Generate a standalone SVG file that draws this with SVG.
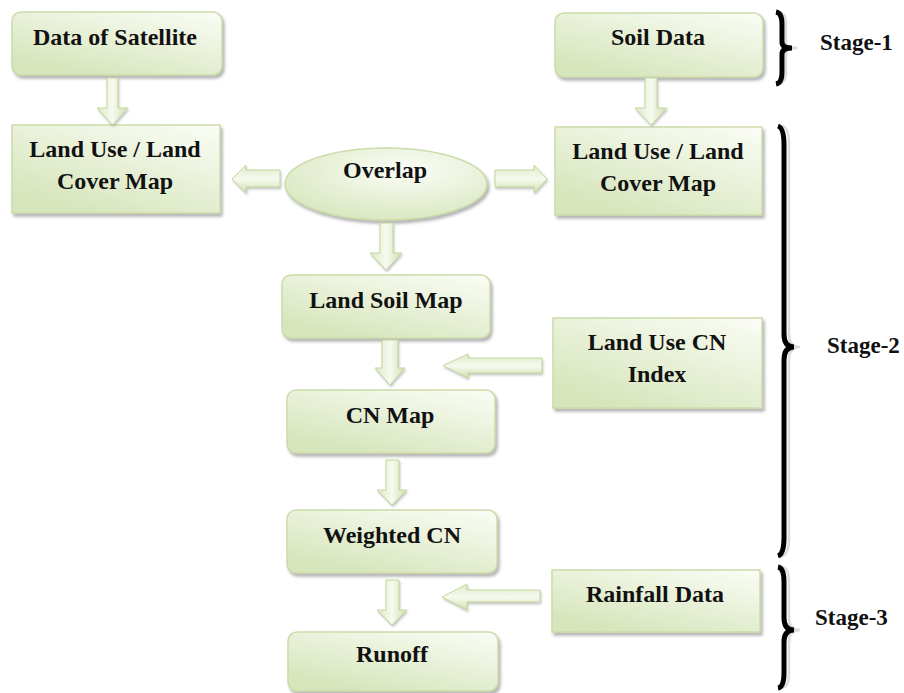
<svg xmlns="http://www.w3.org/2000/svg" width="904" height="693" viewBox="0 0 904 693">
<defs>
<linearGradient id="gBox" x1="1" y1="0" x2="0.3" y2="1">
<stop offset="0" stop-color="#fbfdf6"/>
<stop offset="1" stop-color="#d6e5bb"/>
</linearGradient>
<linearGradient id="gArrV" x1="0" y1="0" x2="1" y2="0">
<stop offset="0" stop-color="#dde9c8"/>
<stop offset="0.5" stop-color="#f7faf0"/>
<stop offset="1" stop-color="#cfdfb0"/>
</linearGradient>
<linearGradient id="gArrH" x1="0" y1="0" x2="0" y2="1">
<stop offset="0" stop-color="#dde9c8"/>
<stop offset="0.5" stop-color="#f7faf0"/>
<stop offset="1" stop-color="#cfdfb0"/>
</linearGradient>
<radialGradient id="gEll" cx="0.6" cy="0.3" r="0.8">
<stop offset="0" stop-color="#fbfdf6"/>
<stop offset="1" stop-color="#d6e5bb"/>
</radialGradient>
<filter id="sh" x="-10%" y="-10%" width="125%" height="135%">
<feDropShadow dx="2" dy="3" stdDeviation="1.5" flood-color="#7a7a7a" flood-opacity="0.55"/>
</filter>
<filter id="shA" x="-20%" y="-20%" width="150%" height="150%">
<feDropShadow dx="1" dy="2" stdDeviation="1" flood-color="#8a8a8a" flood-opacity="0.45"/>
</filter>
</defs>
<style>
.box{fill:url(#gBox);stroke:#cbdcaa;stroke-width:1.5;filter:url(#sh)}
.t{font-family:"Liberation Serif","Times New Roman",serif;font-weight:bold;font-size:24px;fill:#111;text-anchor:middle}
.st{font-family:"Liberation Serif","Times New Roman",serif;font-weight:bold;font-size:23px;fill:#111}
.av{fill:url(#gArrV);stroke:#c3d69b;stroke-width:1;filter:url(#shA)}
.ah{fill:url(#gArrH);stroke:#c3d69b;stroke-width:1;filter:url(#shA)}
.br{fill:none;stroke:#000;stroke-width:5}
.br2{fill:none;stroke:#dcdcdc;stroke-width:2.5}
</style>
<rect width="904" height="693" fill="#fff"/>

<g id="n-satellite"><rect class="box" x="12" y="12" width="210" height="63" rx="9"/><text class="t" x="115" y="45">Data of Satellite</text></g>
<g id="n-lulc-left"><rect class="box" x="12" y="125" width="208" height="88"/><text class="t" x="115" y="157">Land Use / Land</text><text class="t" x="115" y="189">Cover Map</text></g>
<g id="n-soil"><rect class="box" x="555" y="13" width="208" height="64" rx="9"/><text class="t" x="658" y="45">Soil Data</text></g>
<g id="n-lulc-right"><rect class="box" x="555" y="127" width="207" height="88"/><text class="t" x="658" y="159">Land Use / Land</text><text class="t" x="658" y="191">Cover Map</text></g>
<g id="n-overlap"><ellipse cx="386" cy="184" rx="101" ry="36" fill="url(#gEll)" stroke="#cbdcaa" stroke-width="1.5" filter="url(#sh)"/><text class="t" x="385" y="178">Overlap</text></g>
<g id="n-landsoil"><rect class="box" x="282" y="275" width="208" height="63" rx="9"/><text class="t" x="386" y="308">Land Soil Map</text></g>
<g id="n-cnindex"><rect class="box" x="553" y="318" width="209" height="90"/><text class="t" x="657" y="350">Land Use CN</text><text class="t" x="657" y="382">Index</text></g>
<g id="n-cnmap"><rect class="box" x="287" y="390" width="208" height="63" rx="9"/><text class="t" x="390" y="423">CN Map</text></g>
<g id="n-weighted"><rect class="box" x="287" y="510" width="210" height="63" rx="9"/><text class="t" x="392" y="543">Weighted CN</text></g>
<g id="n-rainfall"><rect class="box" x="552" y="570" width="208" height="62"/><text class="t" x="655" y="602">Rainfall Data</text></g>
<g id="n-runoff"><rect class="box" x="288" y="632" width="210" height="59" rx="9"/><text class="t" x="392" y="662">Runoff</text></g>

<g id="connectors">
<path class="av" d="M107,78 H118 V108 H128 L112.5,125 L97,108 H107 Z"/>
<path class="av" d="M645,78 H657 V108 H667 L651,125 L635,108 H645 Z"/>
<path class="av" d="M380,223 H393 V253 H402 L386,270 L370,253 H380 Z"/>
<path class="av" d="M382,340 H398 V368 H405 L390,385 L375,368 H382 Z"/>
<path class="av" d="M386,460 H399 V490 H407 L392,505 L377,490 H386 Z"/>
<path class="av" d="M386,580 H399 V610 H407 L392,625 L377,610 H386 Z"/>
<path class="ah" d="M280,170 V187 H246 V193 L232,179 L246,165 V170 Z"/>
<path class="ah" d="M495,170 H534 V165 L547,179 L534,193 V187 H495 Z"/>
<path class="ah" d="M542,358 V373 H468 V378 L443,365.5 L468,354 V358 Z"/>
<path class="ah" d="M540,590 V602 H467 V610 L442,597 L467,584 V590 Z"/>
</g>

<g id="stage-1">
<path class="br2" d="M779,12 Q786,13 786,24 V42 Q786,48 797,48 Q786,48 786,54 V72 Q786,83 779,84"/>
<path class="br" d="M776,12 Q782,13 782,24 V42 Q782,48 792,48 Q782,48 782,54 V72 Q782,83 776,84"/>
<text class="st" x="820" y="50">Stage-1</text>
</g>
<g id="stage-2">
<path class="br2" d="M782,126 Q789,127 789,145 V334 Q789,347 800,347 Q789,347 789,360 V538 Q789,555 782,556"/>
<path class="br" d="M778,126 Q784,128 784,145 V334 Q784,347 794,347 Q784,347 784,360 V538 Q784,554 778,556"/>
<text class="st" x="827" y="353">Stage-2</text>
</g>
<g id="stage-3">
<path class="br2" d="M782,567 Q789,568 789,582 V618 Q789,630 800,630 Q789,630 789,642 V673 Q789,687 782,688"/>
<path class="br" d="M778,567 Q784,568 784,582 V618 Q784,630 794,630 Q784,630 784,642 V673 Q784,687 778,688"/>
<text class="st" x="815" y="625">Stage-3</text>
</g>
</svg>
